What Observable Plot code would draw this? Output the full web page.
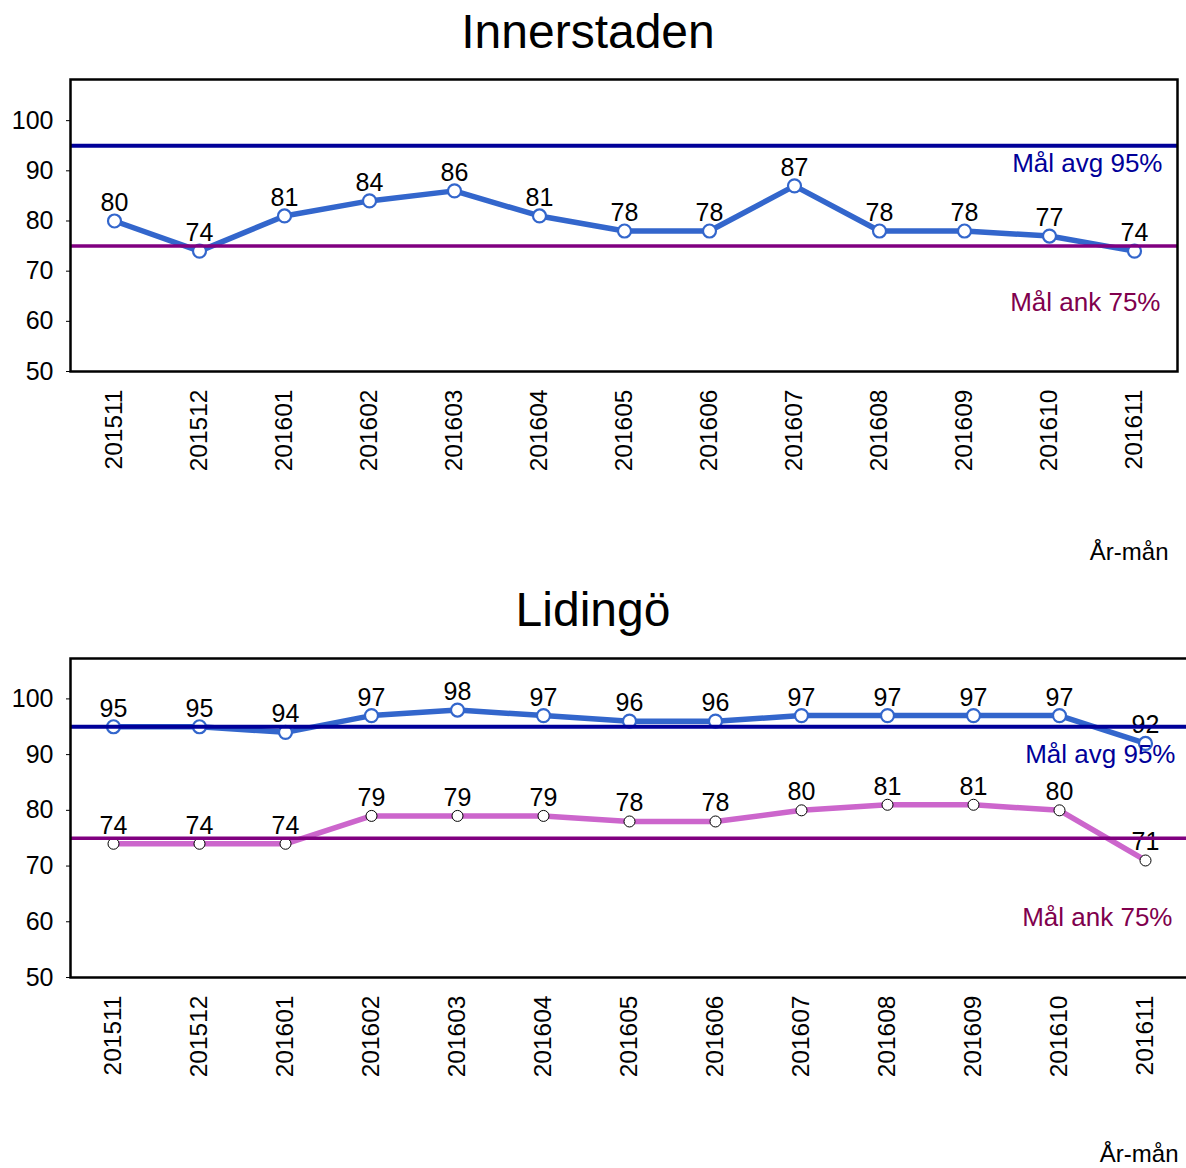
<!DOCTYPE html>
<html>
<head>
<meta charset="utf-8">
<script src="https://cdn.jsdelivr.net/npm/d3@7"></script>
<script src="https://cdn.jsdelivr.net/npm/@observablehq/plot@0.6"></script>
<style>
  html, body { margin: 0; padding: 0; background: #fff; overflow: hidden; width: 1186px; }
  body { font-family: "Liberation Sans", Arial, sans-serif; }
  .title { font-size: 48px; text-align: center; color: #000; white-space: nowrap; }
  #t1 { height: 64px; line-height: 64px; padding-right: 10px; }
  #t2 { height: 60px; line-height: 60px; }
  svg { display: block; max-width: none !important; }
</style>
</head>
<body>
<div class="title" id="t1"></div>
<div id="c1"></div>
<div class="title" id="t2"></div>
<div id="c2"></div>
<script>
const months = ["201511","201512","201601","201602","201603","201604","201605","201606","201607","201608","201609","201610","201611"];
const innerstaden = [80,74,81,84,86,81,78,78,87,78,78,77,74];
const lidingoAvg = [95,95,94,97,98,97,96,96,97,97,97,97,92];
const lidingoAnk = [74,74,74,79,79,79,78,78,80,81,81,80,71];
const titles = ["Innerstaden", "Lidingö"];
const goalAvg = 95;
const goalAnk = 75;
const goalAvgLabel = "Mål avg 95%";
const goalAnkLabel = "Mål ank 75%";
const xLabel = "År-mån";
const yTicks = [50,60,70,80,90,100];

document.getElementById("t1").textContent = titles[0];
document.getElementById("t2").textContent = titles[1];

const BLUE = "#3366CC", PINK = "#CC66CC", DARKBLUE = "#000099", PURPLE = "#800080";
const AVG_TXT = "#000099", ANK_TXT = "#80004D";

function rows(vals) { return months.map((m, i) => ({m, v: vals[i]})); }

function chart(opts) {
  const marks = [];
  for (const s of opts.series) {
    marks.push(Plot.line(rows(s.values), {x: "m", y: "v", stroke: s.color, strokeWidth: 5.5, strokeLinejoin: "round"}));
  }
  for (const s of opts.series) {
    marks.push(Plot.dot(rows(s.values), {x: "m", y: "v", r: s.r, fill: "white", stroke: s.markStroke, strokeWidth: s.markWidth}));
    marks.push(Plot.text(rows(s.values), {x: "m", y: "v", text: d => String(d.v), dy: -18, fontSize: 25, fill: "black"}));
  }
  marks.push(Plot.ruleY([goalAvg], {stroke: DARKBLUE, strokeWidth: 4}));
  marks.push(Plot.ruleY([goalAnk], {stroke: PURPLE, strokeWidth: 3.5}));
  marks.push(Plot.text([goalAvgLabel], {y: [goalAvg], frameAnchor: "right", textAnchor: "end", dx: opts.avgDx, dy: opts.avgDy, fontSize: 26, fill: AVG_TXT}));
  marks.push(Plot.text([goalAnkLabel], {y: [goalAnk], frameAnchor: "right", textAnchor: "end", dx: opts.ankDx, dy: opts.ankDy, fontSize: 26, fill: ANK_TXT}));
  marks.push(Plot.frame({stroke: "black", strokeWidth: 2.5}));
  marks.push(Plot.axisY({ticks: yTicks, tickSize: 4, tickPadding: 13, fontSize: 25, label: null, tickFormat: d => String(d)}));
  marks.push(Plot.axisX({tickRotate: -90, tickSize: 0, tickPadding: 18, fontSize: 24.5, label: null}));
  marks.push(Plot.text([xLabel], {frameAnchor: "bottom-right", textAnchor: "end", dx: opts.xlDx, dy: opts.xlDy, fontSize: 24, fill: "black"}));
  return Plot.plot({
    width: opts.width,
    height: opts.height,
    marginTop: opts.mt,
    marginBottom: opts.mb,
    marginLeft: 70,
    marginRight: opts.mr,
    style: {fontFamily: "'Liberation Sans', Arial, sans-serif", color: "black", overflow: "visible", maxWidth: "none"},
    x: {type: "point", domain: months, padding: opts.pad},
    y: {domain: opts.ydomain},
    marks
  });
}

document.getElementById("c1").appendChild(chart({
  width: 1186, height: 516, mt: 15, mb: 209, mr: 9, pad: 0.465,
  ydomain: [50, 108.2],
  series: [{values: innerstaden, color: BLUE, r: 6.5, markStroke: BLUE, markWidth: 2.2}],
  avgDx: -15, avgDy: 18, ankDx: -17, ankDy: 57, xlDx: -9, xlDy: 188
}));

document.getElementById("c2").appendChild(chart({
  width: 1190, height: 528, mt: 18, mb: 191, mr: 3, pad: 0.463,
  ydomain: [50, 107.25],
  series: [
    {values: lidingoAvg, color: BLUE, r: 6.5, markStroke: BLUE, markWidth: 2.2},
    {values: lidingoAnk, color: PINK, r: 5.5, markStroke: "black", markWidth: 1}
  ],
  avgDx: -12, avgDy: 28, ankDx: -15, ankDy: 79, xlDx: -9, xlDy: 184
}));
</script>
</body>
</html>
